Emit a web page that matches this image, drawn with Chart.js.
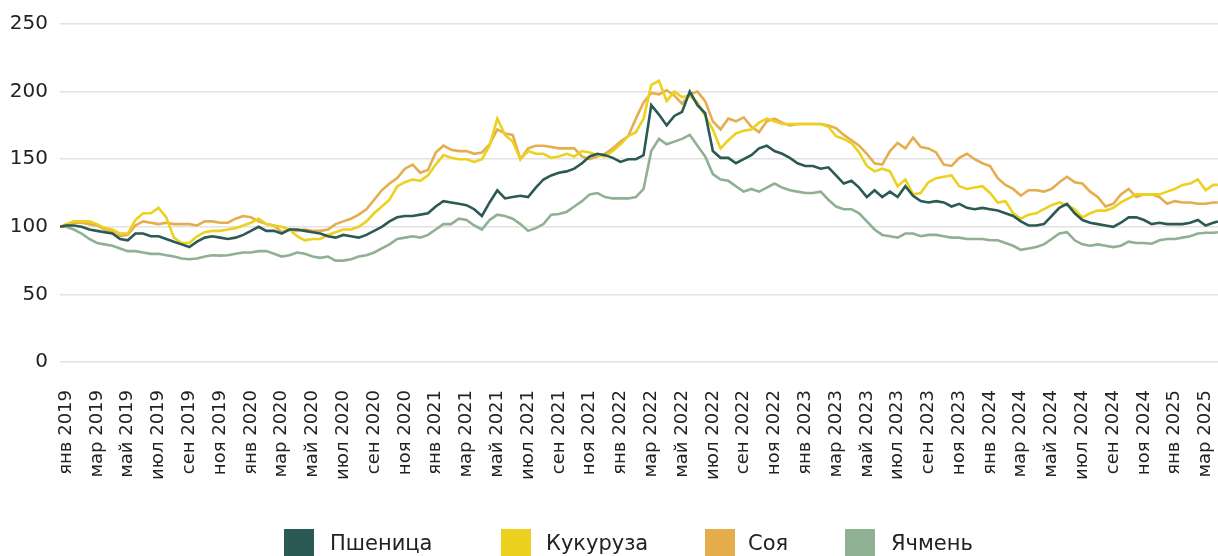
<!DOCTYPE html>
<html><head><meta charset="utf-8">
<script src="https://cdn.jsdelivr.net/npm/chart.js@4.4.1/dist/chart.umd.min.js"></script>
<style>
html,body{margin:0;padding:0;background:#fff;overflow:hidden;}
#wrap{position:relative;width:1218px;height:556px;overflow:hidden;background:#fff;}
#c{position:absolute;left:0;top:0;}
.item{position:absolute;top:529px;height:30px;font-family:'DejaVu Sans',sans-serif;font-size:21px;color:#222;white-space:nowrap;}
.box{position:absolute;top:0;width:30px;height:30px;}
.txt{position:absolute;top:2px;}
</style></head>
<body>
<div id="wrap">
<canvas id="c" width="1221" height="556"></canvas>
<div id="legend"></div>
</div>
<script>
// Month index: 0 = Jan 2019 (half-month sampling)
const months = [-0.4];
for (let i = 0; i <= 149; i++) months.push(i / 2);
months.push(74.8);

const monthNames = ['янв','фев','мар','апр','май','июн','июл','авг','сен','окт','ноя','дек'];
const firstYear = 2019;

const seriesNames = ['Пшеница','Кукуруза','Соя','Ячмень'];
const seriesColors = ['#2b5a55','#ecd11f','#e6ad4e','#8fb093'];

const wheat = [100,
101,101,100,98,97,96,95,91,90,95,
95,93,93,91,89,87,85,89,92,93,
92,91,92,94,97,100,97,97,95,98,
98,97,96,95,93,92,94,93,92,94,
97,100,104,107,108,108,109,110,115,119,
118,117,116,113,108,118,127,121,122,123,
122,129,135,138,140,141,143,147,152,154,
153,151,148,150,150,153,190,183,175,182,
185,200,190,184,156,151,151,147,150,153,
158,160,156,154,151,147,145,145,143,144,
138,132,134,129,122,127,122,126,122,130,
123,119,118,119,118,115,117,114,113,114,
113,112,110,108,104,101,101,102,108,114,
117,110,105,103,102,101,100,103,107,107,
105,102,103,102,102,102,103,105,101,103,
104];

const corn = [100,
102,104,104,104,102,99,98,95,95,105,
110,110,114,107,92,88,88,93,96,97,
97,98,99,101,103,106,102,101,100,98,
93,90,91,91,94,96,98,98,100,104,
110,115,120,130,133,135,134,138,146,153,
151,150,150,148,150,160,180,168,163,150,
156,154,154,151,152,154,152,156,155,153,
152,156,161,167,170,180,205,208,193,200,
196,197,192,182,172,158,164,169,171,172,
177,180,178,176,176,176,176,176,176,174,
167,165,162,155,145,141,143,141,130,135,
124,125,133,136,137,138,130,128,129,130,
125,118,119,110,106,109,110,113,116,118,
116,113,107,110,112,112,114,118,121,124,
124,124,124,126,128,131,132,135,127,131,
131];

const soy = [100,
101,103,103,102,101,98,96,93,94,101,
104,103,102,103,102,102,102,101,104,104,
103,103,106,108,107,104,102,101,96,98,
97,98,97,97,98,102,104,106,109,113,
120,127,132,136,143,146,140,142,155,160,
157,156,156,154,155,161,172,169,168,150,
158,160,160,159,158,158,158,152,150,152,
154,158,163,167,180,192,199,198,201,197,
191,198,200,193,178,172,180,178,181,174,
170,178,180,177,175,176,176,176,176,175,
173,168,164,160,154,147,146,156,162,158,
166,159,158,155,146,145,151,154,150,147,
145,136,131,128,123,127,127,126,128,133,
137,133,132,126,122,115,117,124,128,122,
124,124,122,117,119,118,118,117,117,118,
118];

const barley = [100,
100,98,95,91,88,87,86,84,82,82,
81,80,80,79,78,76.5,76,76.5,78,79,
78.7,79,80,81,81,82,82,80,78,79,
81,80,78,77,78,75,75,76,78,79,
81,84,87,91,92,93,92,94,98,102,
102,106,105,101,98,105,109,108,106,102,
97,99,102,109,109.5,111,115,119,124,125,
122,121,121,121,122,128,156,165,161,163,
165,168,160,152,139,135,134,130,126,128,
126,129,132,129,127,126,125,125,126,120,
115,113,113,110,104,98,94,93,92,95,
95,93,94,94,93,92,92,91,91,91,
90,90,88,86,83,84,85,87,91,95,
96,90,87,86,87,86,85,86,89,88,
88,87.5,90,91,91,92,93,95,95.6,95.6,
96];

const yTicks = [0, 50, 100, 150, 200, 250];
const legendLeft = [284, 501, 705, 845];
const legendTextLeft = [330, 546, 748, 891];

const allSeries = [wheat, corn, soy, barley];

function makeDataset(i) {
  return {
    label: seriesNames[i],
    data: allSeries[i].map((v, k) => ({x: months[k], y: v})),
    borderColor: seriesColors[i],
    backgroundColor: seriesColors[i],
    borderWidth: 2.6,
    pointRadius: 0,
    tension: 0,
    fill: false
  };
}

const FONT = 'DejaVu Sans';
new Chart(document.getElementById('c'), {
  type: 'line',
  data: {datasets: [0,1,2,3].map(makeDataset)},
  options: {
    responsive: false,
    animation: false,
    devicePixelRatio: 1,
    layout: {padding: {left: 0, top: 12, right: 0, bottom: 0}},
    plugins: {legend: {display: false}, tooltip: {enabled: false}},
    scales: {
      x: {
        type: 'linear', min: -0.4, max: 75,
        grid: {display: false}, border: {display: false},
        afterFit: (s) => { s.height = 194; s.paddingLeft = 0; s.paddingRight = 0; },
        ticks: {
          stepSize: 2, includeBounds: false, autoSkip: false,
          maxRotation: 90, minRotation: 90, padding: 20,
          color: '#222', font: {family: FONT, size: 18},
          callback: (v) => {
            if (Math.abs(v - Math.round(v)) > 1e-6) return null;
            const m = Math.round(v);
            return monthNames[m % 12] + ' ' + (firstYear + Math.floor(m / 12));
          }
        }
      },
      y: {
        min: yTicks[0], max: yTicks[yTicks.length - 1],
        afterBuildTicks: (s) => { s.ticks = yTicks.map(v => ({value: v})); },
        afterFit: (s) => { s.width = 60; },
        grid: {color: '#e2e2e2', lineWidth: 1.6, drawTicks: false},
        border: {display: false},
        ticks: {padding: 12, color: '#222', font: {family: FONT, size: 20}}
      }
    }
  }
});

const leg = document.getElementById('legend');
seriesNames.forEach((n, i) => {
  const b = document.createElement('div');
  b.className = 'item';
  b.style.left = legendLeft[i] + 'px';
  b.innerHTML = '<span class="box" style="left:0;background:' + seriesColors[i] + '"></span>' +
    '<span class="txt" style="left:' + (legendTextLeft[i] - legendLeft[i]) + 'px">' + n + '</span>';
  leg.appendChild(b);
});
</script>
</body></html>
